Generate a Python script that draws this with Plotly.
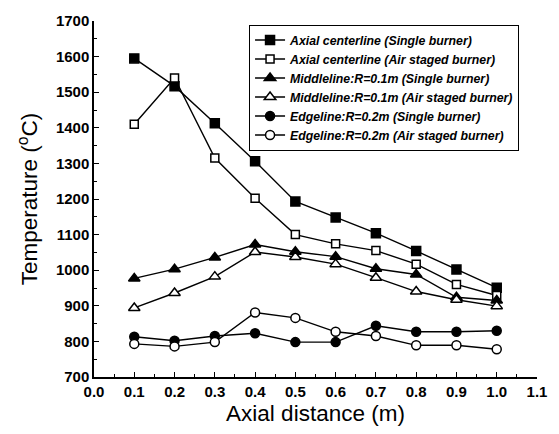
import plotly.graph_objects as go

x = [0.1, 0.2, 0.3, 0.4, 0.5, 0.6, 0.7, 0.8, 0.9, 1.0]
axial_single = [1595, 1517, 1413, 1306, 1193, 1148, 1104, 1054, 1002, 951]
axial_staged = [1410, 1540, 1315, 1202, 1100, 1074, 1055, 1017, 960, 929]
middle_single = [977, 1003, 1036, 1072, 1052, 1038, 1004, 988, 924, 915]
middle_staged = [894, 936, 982, 1051, 1037, 1017, 979, 940, 917, 899]
edge_single = [813, 802, 815, 823, 798, 798, 844, 827, 827, 830]
edge_staged = [793, 786, 798, 881, 866, 827, 815, 789, 789, 778]

names = [
    "Axial centerline (Single burner)",
    "Axial centerline (Air staged burner)",
    "Middleline:R=0.1m (Single burner)",
    "Middleline:R=0.1m (Air staged burner)",
    "Edgeline:R=0.2m (Single burner)",
    "Edgeline:R=0.2m (Air staged burner)",
]
series = [axial_single, axial_staged, middle_single, middle_staged, edge_single, edge_staged]
symbols = ["square", "square", "triangle-up", "triangle-up", "circle", "circle"]
filled = [True, False, True, False, True, False]
sizes = [9, 8, 10, 10, 9, 9]

fig = go.Figure()
for name, ys, sym, fl, sz in zip(names, series, symbols, filled, sizes):
    fig.add_trace(go.Scatter(
        x=x, y=ys, name=name, mode="lines+markers",
        line=dict(color="black", width=1.4),
        marker=dict(symbol=sym, size=sz, color="black" if fl else "white",
                    line=dict(color="black", width=1.5)),
    ))

axis_common = dict(
    showline=True, linecolor="black", linewidth=1.5, mirror=False,
    ticks="inside", ticklen=5, tickwidth=1.2, tickcolor="black",
    showgrid=False, zeroline=False,
    tickfont=dict(family="Liberation Sans", size=15, color="black", weight="bold"),
    title_font=dict(family="Liberation Sans", size=22.5, color="black"),
)

fig.update_xaxes(
    range=[0, 1.1], dtick=0.1, tick0=0, tickformat=".1f",
    minor=dict(dtick=0.05, ticks="inside", ticklen=3, tickcolor="black", tickwidth=1),
    title_text="Axial distance (m)", title_standoff=6,
    **axis_common,
)
fig.update_yaxes(
    range=[700, 1700], dtick=100, tick0=700,
    minor=dict(dtick=50, ticks="inside", ticklen=3, tickcolor="black", tickwidth=1),
    title_text="Temperature (<sup>o</sup>C)", title_standoff=12,
    **axis_common,
)

fig.update_layout(
    width=559, height=434,
    margin=dict(l=94, r=20, t=16, b=56),
    paper_bgcolor="white", plot_bgcolor="white",
    legend=dict(
        x=0.35, y=0.99, xanchor="left", yanchor="top",
        bordercolor="black", borderwidth=1, bgcolor="white",
        font=dict(family="Liberation Sans", size=12.3, color="black", weight="bold", style="italic"),
        tracegroupgap=0, itemwidth=30,
    ),
)

fig.write_html("out.html")
